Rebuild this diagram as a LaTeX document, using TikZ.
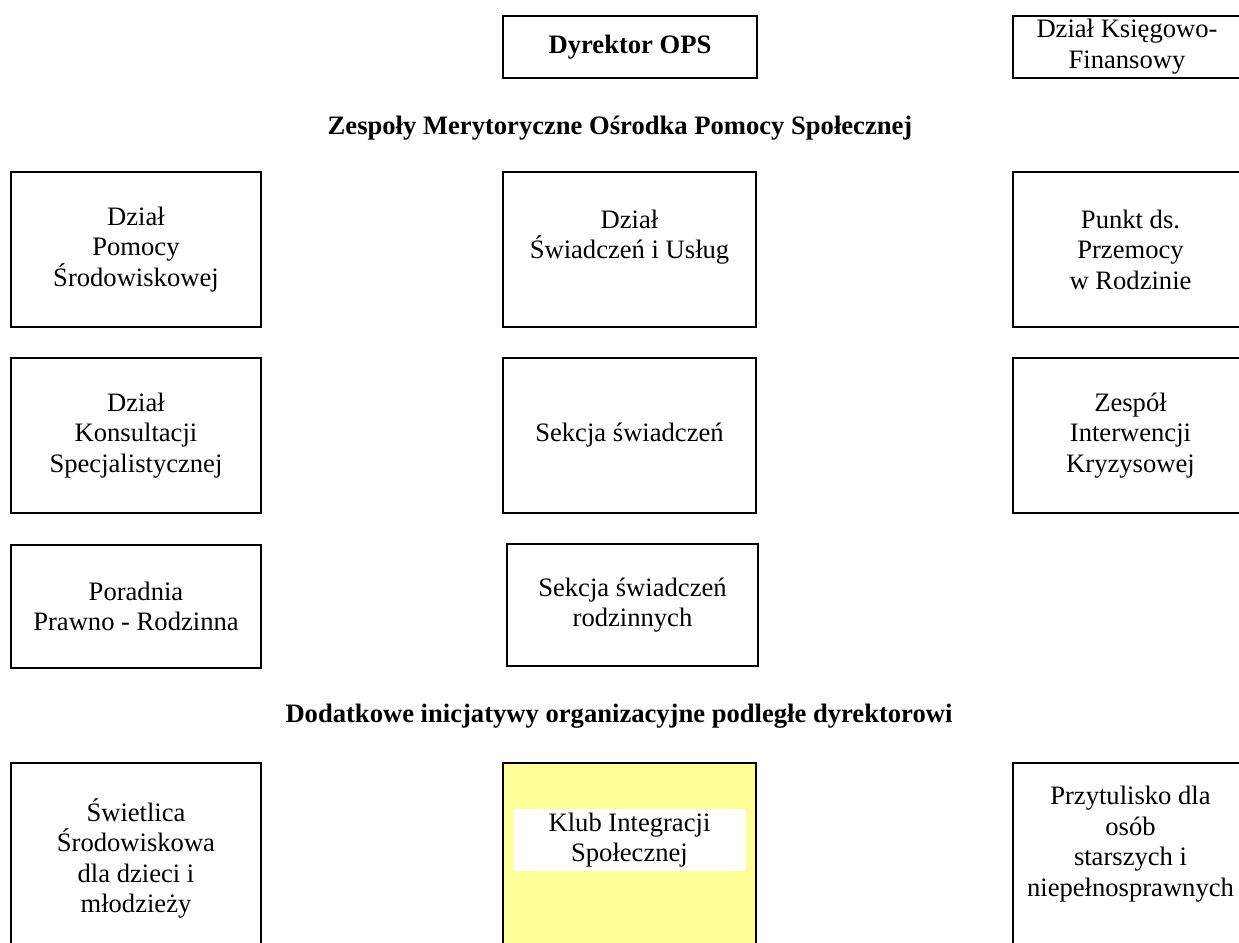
\documentclass[tikz,border=0pt]{standalone}
\usepackage{fontspec}
\setmainfont{Liberation Serif}
\usetikzlibrary{positioning}
\definecolor{klubyellow}{HTML}{FFFF99}

\begin{document}
\begin{tikzpicture}[
    x=0.5pt, y=-0.5pt,
    every node/.style={font=\fontsize{13.3}{15.25}\selectfont},
    unit/.style={rectangle, draw=black, line width=0.9pt, align=center, inner sep=0pt, minimum width=125pt, minimum height=77.5pt},
    heading/.style={font=\fontsize{13.3}{15.25}\selectfont\bfseries},
    txt/.style={align=center, inner sep=0pt}
]
    \useasboundingbox (0,0) rectangle (1239,943);

    % Management
    \node[unit, heading, minimum width=127pt, minimum height=31.3pt] (dyrektor) at (630,47) {Dyrektor OPS};
    \node[unit, minimum width=114pt, minimum height=31pt] (ksiegowosc) at (1127,46.7) {Dział Księgowo-\\Finansowy};

    % Section titles
    \node[heading] (zespoly) at (620,128) {Zespoły Merytoryczne Ośrodka Pomocy Społecznej};
    \node[heading] (inicjatywy) at (619,716) {Dodatkowe inicjatywy organizacyjne podległe dyrektorowi};

    % First row
    \node[unit] (pomoc) at (136,249.5) {Dział\\Pomocy\\Środowiskowej};
    \node[unit, minimum width=126.5pt] (swiadczenia) at (629.5,249.5) {Dział\\Świadczeń i Usług\\~};
    \node[unit, minimum width=117.5pt] (przemoc) at (1130.5,249.5) {Punkt ds.\\Przemocy\\w Rodzinie};

    % Second row
    \node[unit] (konsultacje) at (136,435.5) {Dział\\Konsultacji\\Specjalistycznej};
    \node[unit, minimum width=126.5pt] (sekcja) at (629.5,435.5) {Sekcja świadczeń};
    \node[unit, minimum width=117.5pt] (kryzys) at (1130.5,435.5) {Zespół\\Interwencji\\Kryzysowej};

    % Third row
    \node[unit, minimum height=61.5pt] (poradnia) at (136,606.5) {Poradnia\\Prawno - Rodzinna};
    \node[unit, minimum width=125.5pt, minimum height=61pt] (rodzinne) at (632.5,605) {Sekcja świadczeń\\rodzinnych};

    % Additional initiatives
    \node[unit, minimum height=94pt] (swietlica) at (136,857) {};
    \node[unit, minimum width=126.5pt, minimum height=94pt, fill=klubyellow] (klub) at (629.5,857) {};
    \node[unit, minimum width=117.5pt, minimum height=94pt] (przytulisko) at (1130.5,857) {};

    \node[txt, below=18pt of swietlica.north] (swietlicatxt) {Świetlica\\Środowiskowa\\dla dzieci i\\młodzieży};
    \node[txt, fill=white, minimum width=116.5pt, minimum height=31pt] (klubtxt) at (629.5,840) {Klub Integracji\\Społecznej};
    \node[txt, below=12pt of przytulisko.north] (przytuliskotxt) {Przytulisko dla\\osób\\starszych i\\niepełnosprawnych};

\end{tikzpicture}
\end{document}
